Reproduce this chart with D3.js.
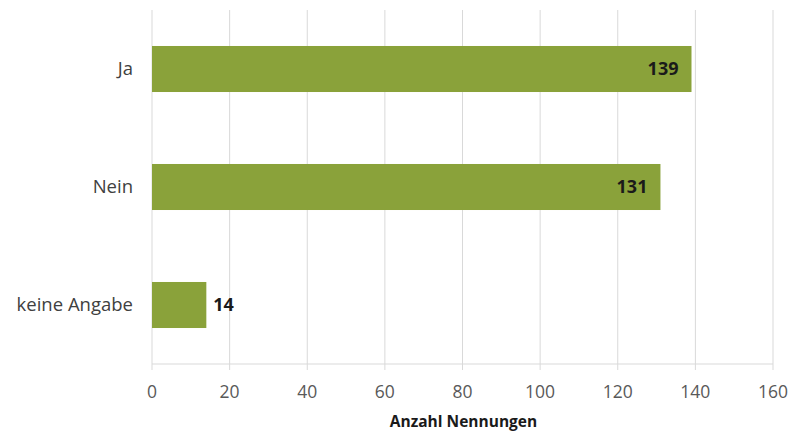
<!DOCTYPE html>
<html>
<head>
<meta charset="utf-8">
<script src="https://cdn.jsdelivr.net/npm/d3@7"></script>
<style>
  html, body { margin: 0; padding: 0; background: #fff; }
  svg { display: block; }
  text { font-family: "Open Sans", "Liberation Sans", sans-serif; }
</style>
</head>
<body>
<svg id="chart" width="794" height="431"></svg>
<script>
// Survey answers and number of mentions
const categories = ["Ja", "Nein", "keine Angabe"];
const values = [139, 131, 14];
const tickValues = [0, 20, 40, 60, 80, 100, 120, 140, 160];
const axisTitle = "Anzahl Nennungen";

const svg = d3.select("#chart");
const margin = { top: 10, left: 152, right: 21, bottom: 67 };
const W = 794, H = 431;

const x = d3.scaleLinear().domain([0, 160]).range([margin.left, W - margin.right]);
const y = d3.scaleBand().domain(categories).range([margin.top, H - margin.bottom]).paddingInner(0.61).paddingOuter(0.305);

const barColor = "#8aa23a";
const gridColor = "#d9d9d9";

// vertical gridlines (extend a little below the axis as tick marks)
svg.append("g").selectAll("line").data(tickValues).join("line")
  .attr("x1", d => x(d)).attr("x2", d => x(d))
  .attr("y1", margin.top).attr("y2", H - margin.bottom + 6)
  .attr("stroke", gridColor).attr("stroke-width", 1);

// horizontal axis line
svg.append("line")
  .attr("x1", x(0)).attr("x2", x(160))
  .attr("y1", H - margin.bottom).attr("y2", H - margin.bottom)
  .attr("stroke", gridColor).attr("stroke-width", 1);

// bars
svg.append("g").selectAll("rect").data(categories).join("rect")
  .attr("x", x(0))
  .attr("y", d => y(d))
  .attr("width", (d, i) => x(values[i]) - x(0))
  .attr("height", y.bandwidth())
  .attr("fill", barColor);

// value labels: inside end for long bars, outside for short ones
svg.append("g").selectAll("text").data(categories).join("text")
  .attr("x", (d, i) => values[i] > 40 ? x(values[i]) - 13 : x(values[i]) + 7)
  .attr("y", d => y(d) + y.bandwidth() / 2)
  .attr("dy", "0.35em")
  .attr("text-anchor", (d, i) => values[i] > 40 ? "end" : "start")
  .attr("font-size", 18)
  .attr("font-weight", "bold")
  .attr("fill", "#1a1a1a")
  .text((d, i) => values[i]);

// category labels
svg.append("g").selectAll("text").data(categories).join("text")
  .attr("x", margin.left - 19)
  .attr("y", d => y(d) + y.bandwidth() / 2)
  .attr("dy", "0.35em")
  .attr("text-anchor", "end")
  .attr("font-size", 18.5)
  .attr("fill", "#404040")
  .text(d => d);

// tick labels
svg.append("g").selectAll("text").data(tickValues).join("text")
  .attr("x", d => x(d))
  .attr("y", 392)
  .attr("dy", "0.35em")
  .attr("text-anchor", "middle")
  .attr("font-size", 17.5)
  .attr("fill", "#595959")
  .text(d => d);

// axis title
svg.append("text")
  .attr("x", (x(0) + x(160)) / 2 + 1)
  .attr("y", 422)
  .attr("dy", "0.35em")
  .attr("text-anchor", "middle")
  .attr("font-size", 15.5)
  .attr("font-weight", "bold")
  .attr("fill", "#1a1a1a")
  .text(axisTitle);
</script>
</body>
</html>
